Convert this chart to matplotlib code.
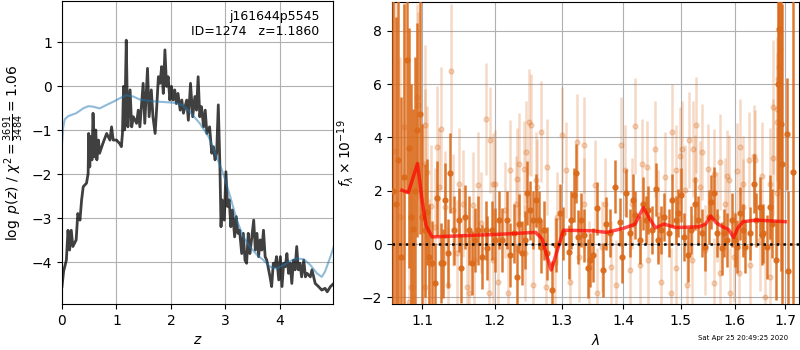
import matplotlib
matplotlib.use("Agg")
import matplotlib.pyplot as plt
from matplotlib.ticker import FixedLocator, FixedFormatter, NullLocator, NullFormatter

# log p(z) on the redshift grid
z_grid = [0.0, 0.03, 0.08, 0.11, 0.14, 0.17, 0.2, 0.26, 0.29, 0.33, 0.36, 0.39, 0.45, 0.48, 0.49,
          0.51, 0.53, 0.55, 0.57, 0.6, 0.62, 0.64, 0.67, 0.69, 0.75, 0.82, 0.88, 0.91, 0.94, 1.0,
          1.06, 1.09, 1.11, 1.13, 1.15, 1.18, 1.2, 1.21, 1.25, 1.28, 1.31, 1.37, 1.4, 1.43, 1.49,
          1.52, 1.57, 1.6, 1.64, 1.67, 1.71, 1.74, 1.77, 1.8, 1.83, 1.86, 1.89, 1.92, 1.95, 1.98,
          2.01, 2.04, 2.07, 2.1, 2.13, 2.17, 2.2, 2.23, 2.29, 2.32, 2.36, 2.4, 2.44, 2.47, 2.5,
          2.53, 2.56, 2.6, 2.63, 2.66, 2.71, 2.75, 2.78, 2.81, 2.84, 2.87, 2.9, 2.92, 2.94, 2.98,
          3.01, 3.04, 3.07, 3.1, 3.13, 3.17, 3.2, 3.23, 3.26, 3.3, 3.33, 3.36, 3.39, 3.42, 3.45,
          3.48, 3.52, 3.55, 3.58, 3.61, 3.64, 3.67, 3.7, 3.73, 3.76, 3.82, 3.85, 3.88, 3.91, 3.94,
          3.98, 4.01, 4.04, 4.07, 4.1, 4.13, 4.16, 4.19, 4.22, 4.25, 4.28, 4.31, 4.34, 4.37, 4.4,
          4.44, 4.47, 4.5, 4.56, 4.59, 4.65, 4.71, 4.77, 4.83, 4.87, 4.93, 4.99]
log_pz = [-4.55, -4.2, -3.95, -3.27, -3.72, -3.27, -3.64, -3.49, -2.89, -3.04, -2.58, -2.28, -2.2, -1.98, -1.07,
          -1.83, -1.14, -1.67, -0.61, -1.6, -0.99, -1.67, -1.22, -1.52, -1.3, -1.07, -1.22, -0.92, -1.22, -1.22,
          -1.3, -1.37, -1.07, 0.0, -0.99, 1.05, -0.46, -0.92, -0.08, -0.92, -0.69, -0.84, -0.54, -0.92, 0.07,
          -0.84, 0.41, -0.69, -0.08, -0.69, -1.07, -0.46, 0.22, 0.07, 0.45, -0.16, 0.83, 0.0, 0.22, -0.31,
          0.0, -0.31, -0.08, -0.39, -0.16, -0.54, -0.31, -0.61, -0.31, -0.77, 0.07, -0.69, -0.23, -0.54, 0.22,
          -0.69, -0.46, -0.92, -0.54, -1.07, -0.92, -1.52, -1.37, -1.67, -1.52, -0.42, -1.83, -3.19, -2.58, -3.04,
          -1.94, -2.73, -2.58, -3.19, -2.81, -3.42, -2.96, -3.34, -3.27, -3.8, -3.34, -3.95, -4.02, -3.34, -3.8,
          -3.49, -3.04, -3.72, -3.34, -3.87, -3.49, -3.72, -3.27, -3.87, -3.95, -4.33, -4.55, -4.02, -4.1, -3.87,
          -4.4, -3.87, -4.55, -4.02, -4.1, -3.8, -4.25, -4.02, -4.48, -3.95, -4.17, -3.64, -4.17, -4.02, -4.33,
          -3.95, -4.33, -4.25, -4.33, -4.17, -4.48, -4.55, -4.63, -4.59, -4.67, -4.55, -4.48]

# smooth prior curve
z_prior = [0.0, 0.02, 0.05, 0.11, 0.17, 0.26, 0.39, 0.48, 0.57, 0.69, 0.82, 0.94, 1.06, 1.18, 1.31,
           1.43, 1.61, 1.8, 2.04, 2.2, 2.35, 2.53, 2.69, 2.84, 2.96, 3.09, 3.21, 3.33, 3.45, 3.58,
           3.7, 3.82, 3.94, 4.07, 4.19, 4.31, 4.44, 4.56, 4.68, 4.77, 4.83, 4.93, 4.99]
log_prior = [-1.3, -0.95, -0.75, -0.68, -0.65, -0.61, -0.5, -0.45, -0.46, -0.5, -0.42, -0.35, -0.27, -0.2, -0.23,
             -0.3, -0.33, -0.35, -0.37, -0.42, -0.58, -0.84, -1.14, -1.6, -1.98, -2.51, -3.04, -3.42, -3.64, -3.83,
             -3.95, -4.1, -4.14, -4.06, -3.97, -3.91, -3.93, -4.06, -4.25, -4.33, -4.21, -3.87, -3.64]

# grism spectrum, strong-weight pixels
lam_a = [1.0625, 1.0665, 1.069, 1.0725, 1.0765, 1.0795, 1.0833, 1.0855, 1.0878, 1.0905, 1.0934, 1.0974,
         1.0995, 1.103, 1.106, 1.109, 1.1133, 1.1168, 1.119, 1.1244, 1.1276, 1.1311, 1.1344, 1.1379,
         1.1426, 1.1494, 1.153, 1.1578, 1.1633, 1.168, 1.1712, 1.1764, 1.1811, 1.1867, 1.1891, 1.1963,
         1.2002, 1.2064, 1.2104, 1.2176, 1.2224, 1.2273, 1.2322, 1.2358, 1.2397, 1.2446, 1.248, 1.252,
         1.257, 1.2606, 1.2647, 1.268, 1.2727, 1.278, 1.285, 1.2918, 1.298, 1.303, 1.311, 1.315,
         1.3188, 1.3226, 1.3267, 1.331, 1.3363, 1.3412, 1.3455, 1.3492, 1.3564, 1.3666, 1.372, 1.3776,
         1.3858, 1.394, 1.398, 1.4043, 1.411, 1.4167, 1.4206, 1.428, 1.4327, 1.4378, 1.4425, 1.4483,
         1.4551, 1.46, 1.4656, 1.4704, 1.4789, 1.4849, 1.4907, 1.4943, 1.5004, 1.5063, 1.5123, 1.5185,
         1.5258, 1.532, 1.538, 1.5447, 1.551, 1.5554, 1.5615, 1.5666, 1.576, 1.5803, 1.5856, 1.5951,
         1.6, 1.6047, 1.611, 1.6163, 1.6207, 1.629, 1.638, 1.642, 1.6486, 1.6532, 1.6563, 1.663,
         1.6697, 1.673, 1.682, 1.686, 1.6874, 1.6915, 1.6945, 1.7045, 1.705, 1.7155]
flux_a = [2.0, 1.5, 3.17, -0.5, 2.5, 6.9, 3.6, 1.0, 0.56, 2.0, 4.27, 4.87,
          1.0, 0.52, 1.2, -0.5, -0.72, -1.47, 1.71, -0.72, -0.72, 1.64, -0.35, 2.67,
          0.52, 0.9, -0.91, 1.02, 0.52, -0.72, 0.15, 0.52, -0.47, 0.52, -0.16, 0.52,
          0.15, 0.9, 0.15, 0.9, -0.41, 0.4, -1.22, 0.77, -0.35, 0.15, 1.9, 1.27,
          0.9, 1.64, 0.9, -0.1, 0.52, -0.35, -1.72, -0.04, 1.15, 0.4, -0.29, 0.9,
          1.84, 2.65, 0.27, 0.9, 0.33, -0.91, -0.6, -0.41, 1.34, -0.97, 0.77, 0.4,
          2.15, 0.84, -0.47, 1.9, 0.4, 1.64, 1.08, 0.15, 1.52, 0.9, 1.27, 0.52,
          2.05, 0.15, 0.52, 1.02, 0.4, 1.64, 0.9, 1.15, 1.84, 0.27, -0.41, 0.52,
          1.52, 0.9, 0.4, -0.1, 1.02, 1.58, 1.9, 0.4, -0.16, 0.4, 0.15, 0.9,
          0.15, -0.1, 1.15, 0.52, -0.1, 0.4, 2.27, 0.9, 1.4, 0.33, 0.4, -0.1,
          1.4, 0.77, -0.6, 6.0, 8.05, 4.5, 3.0, 4.12, -1.0, 2.71]
err_a = [8.0, 7.0, 7.0, 6.0, 6.5, 5.0, 4.5, 5.0, 4.5, 5.0, 4.0, 4.5,
         3.5, 2.5, 2.0, 2.0, 1.6, 1.5, 1.4, 1.5, 1.3, 1.4, 1.3, 1.5,
         1.3, 1.2, 1.3, 1.2, 1.3, 1.2, 1.2, 1.3, 1.2, 1.1, 1.2, 1.1,
         1.2, 1.1, 1.2, 1.1, 1.2, 1.1, 1.2, 1.1, 1.2, 1.1, 1.2, 1.1,
         1.1, 1.0, 1.1, 1.0, 1.1, 1.0, 1.1, 1.0, 1.1, 1.0, 1.0, 1.1,
         1.0, 1.1, 1.0, 1.0, 1.0, 1.1, 1.0, 1.0, 1.0, 1.0, 1.0, 0.9,
         1.0, 0.9, 1.0, 0.9, 0.9, 1.0, 0.9, 0.9, 1.0, 0.9, 0.9, 0.9,
         1.0, 0.9, 0.9, 0.9, 0.9, 1.0, 0.9, 0.9, 1.0, 0.9, 1.0, 0.9,
         1.0, 0.9, 0.9, 0.9, 1.0, 1.0, 1.0, 0.9, 1.0, 0.9, 1.0, 1.0,
         1.0, 1.0, 1.0, 1.0, 1.0, 1.0, 1.1, 1.0, 1.1, 1.1, 1.1, 1.2,
         1.2, 1.3, 1.5, 6.0, 6.0, 5.5, 6.0, 2.1, 3.0, 8.0]

# grism spectrum, second orient (faint)
lam_b = [1.064, 1.071, 1.076, 1.0826, 1.085, 1.0934, 1.095, 1.103, 1.104, 1.104, 1.1066, 1.109,
         1.111, 1.117, 1.1199, 1.122, 1.1255, 1.131, 1.1345, 1.138, 1.142, 1.1465, 1.149, 1.155,
         1.16, 1.1633, 1.169, 1.17, 1.176, 1.181, 1.1867, 1.1915, 1.193, 1.197, 1.198, 1.2006,
         1.205, 1.215, 1.2197, 1.2224, 1.2305, 1.2331, 1.2359, 1.243, 1.2446, 1.2465, 1.2502, 1.2527,
         1.257, 1.2609, 1.2623, 1.268, 1.2756, 1.278, 1.29, 1.293, 1.3005, 1.307, 1.3134, 1.324,
         1.327, 1.335, 1.336, 1.343, 1.353, 1.356, 1.3645, 1.3695, 1.38, 1.388, 1.396, 1.4026,
         1.411, 1.414, 1.4206, 1.428, 1.431, 1.4395, 1.4425, 1.454, 1.46, 1.4656, 1.4718, 1.4826,
         1.4837, 1.4907, 1.4907, 1.4987, 1.5017, 1.508, 1.5106, 1.5153, 1.52, 1.5227, 1.526, 1.527,
         1.535, 1.5384, 1.545, 1.549, 1.56, 1.56, 1.5666, 1.5724, 1.5724, 1.582, 1.5845, 1.589,
         1.591, 1.598, 1.6047, 1.608, 1.611, 1.617, 1.617, 1.627, 1.63, 1.638, 1.64, 1.6486,
         1.6532, 1.66, 1.67, 1.6697, 1.675, 1.676, 1.683, 1.6843, 1.684, 1.686, 1.688, 1.689]
flux_b = [3.5, 1.0, 4.4, -2.16, -1.6, 5.5, 5.2, 3.0, 4.45, -1.6, 2.69, -0.72,
          1.43, 0.65, 3.64, 2.15, 4.33, 1.38, -1.55, 6.5, 1.27, -0.35, 2.27, 1.52,
          -1.6, -1.85, 1.46, -0.6, 2.2, 0.8, 4.68, -1.85, 3.9, -0.6, 2.27, 2.27,
          -1.42, 1.27, -1.85, 2.77, 1.52, 2.45, 3.0, 2.82, -0.35, 3.45, 4.58, 4.46,
          -1.55, 2.4, 2.15, 4.21, -1.6, 2.9, -0.72, 1.02, 4.1, 2.77, -1.42, 3.82,
          -0.47, 1.52, 3.7, -0.85, 2.2, -1.85, -0.1, 1.52, -0.85, -1.55, 3.7, 2.77,
          -0.97, 1.52, 4.42, -0.77, 3.0, 2.9, -0.6, 3.57, 1.08, -1.42, 2.5, -1.85,
          4.21, 2.77, -0.91, 3.32, 3.57, 2.02, -1.55, 3.9, -0.6, 3.57, 2.4, 4.46,
          2.15, 3.44, -0.22, 2.8, 2.62, -1.47, 1.02, 3.07, -1.1, 1.52, 2.57, 2.4,
          -1.85, -0.47, 2.75, -1.1, 3.63, 2.27, 1.4, 3.14, -0.8, 3.32, 3.14, 0.15,
          2.57, -1.97, 2.27, -1.22, 3.24, 5.14, 4.58, 5.08, 1.9, 6.2, 6.64, 7.3]
err_b = [6.0, 6.0, 5.0, 4.0, 4.5, 3.5, 3.5, 2.8, 3.0, 2.6, 2.5, 2.4,
         2.3, 2.2, 2.3, 2.2, 2.3, 2.1, 2.2, 2.5, 2.1, 2.0, 2.1, 2.0,
         2.0, 2.0, 2.0, 1.9, 2.0, 1.9, 2.1, 1.9, 2.0, 1.9, 1.9, 2.0,
         1.9, 1.8, 1.9, 1.9, 1.8, 1.9, 1.9, 1.8, 1.8, 1.9, 2.0, 1.9,
         1.8, 1.8, 1.8, 1.9, 1.8, 1.8, 1.7, 1.7, 1.8, 1.8, 1.7, 1.8,
         1.7, 1.7, 1.8, 1.7, 1.7, 1.7, 1.7, 1.7, 1.7, 1.7, 1.8, 1.7,
         1.7, 1.7, 1.8, 1.7, 1.7, 1.7, 1.7, 1.8, 1.7, 1.7, 1.7, 1.7,
         1.8, 1.7, 1.7, 1.8, 1.8, 1.7, 1.7, 1.8, 1.7, 1.8, 1.7, 1.8,
         1.7, 1.8, 1.7, 1.7, 1.7, 1.7, 1.7, 1.8, 1.7, 1.7, 1.7, 1.7,
         1.7, 1.7, 1.8, 1.8, 1.8, 1.8, 1.8, 1.8, 1.8, 1.9, 1.9, 1.9,
         2.0, 2.0, 2.1, 2.1, 2.2, 2.5, 2.6, 2.7, 2.5, 3.0, 3.5, 4.0]

# best-fit model
lam_model = [1.0736, 1.0817, 1.0938, 1.1, 1.105, 1.1129, 1.2, 1.26, 1.27, 1.278, 1.284, 1.29,
             1.303, 1.35, 1.372, 1.4, 1.42, 1.434, 1.445, 1.455, 1.47, 1.491, 1.533, 1.545,
             1.555, 1.565, 1.577, 1.588, 1.598, 1.606, 1.616, 1.642, 1.7]
flux_model = [2.02, 1.93, 3.02, 1.6, 0.7, 0.27, 0.36, 0.44, 0.2, -0.5, -0.97, -0.5,
              0.52, 0.5, 0.44, 0.59, 0.75, 1.37, 0.95, 0.61, 0.75, 0.62, 0.65, 0.75,
              1.05, 0.8, 0.65, 0.55, 0.25, 0.6, 0.84, 0.9, 0.84]

lam_ticks = [1.1, 1.2, 1.3, 1.4, 1.5, 1.6, 1.7]

fig = plt.figure(figsize=(8, 3.5), dpi=100)

# left: redshift PDF
ax1 = fig.add_axes([0.0775, 0.131, 0.339, 0.866])
ax1.plot(z_grid, log_pz, color="k", alpha=0.75, lw=2)
ax1.plot(z_prior, log_prior, color="tab:blue", alpha=0.5, lw=1.5)
ax1.set_xlim(0, 4.98)
ax1.set_ylim(-4.95, 1.94)
ax1.set_xticks([0, 1, 2, 3, 4])
ax1.set_yticks([-4, -3, -2, -1, 0, 1])
ax1.grid(True)
ax1.set_xlabel(r"$z$")
ax1.set_ylabel(r"$\log\ p(z)$" + " / " + r"$\chi^2=\frac{3691}{3484}=1.06$")
ax1.text(0.95, 0.97, "j161644p5545\nID=1274   z=1.1860", transform=ax1.transAxes,
         ha="right", va="top", fontsize=9)

# right: spectrum
ax2 = fig.add_axes([0.49, 0.131, 0.509, 0.863])
orange = "#db6a1a"
ax2.errorbar(lam_b, flux_b, yerr=err_b, fmt="o", color=orange, alpha=0.25,
             ms=3.5, elinewidth=1.8, capsize=0, zorder=2)
ax2.errorbar(lam_a, flux_a, yerr=err_a, fmt="o", color=orange, alpha=0.9,
             ms=3.5, elinewidth=1.8, capsize=0, zorder=3)
ax2.plot(lam_model, flux_model, color="r", alpha=0.7, lw=2.5, zorder=4)
ax2.axhline(0, color="k", ls=":", lw=1.8, zorder=5)
ax2.set_xscale("log")
ax2.set_xlim(1.0608, 1.7288)
ax2.set_ylim(-2.25, 9.07)
ax2.xaxis.set_major_locator(FixedLocator(lam_ticks))
ax2.xaxis.set_major_formatter(FixedFormatter(["%.1f" % t for t in lam_ticks]))
ax2.xaxis.set_minor_locator(NullLocator())
ax2.xaxis.set_minor_formatter(NullFormatter())
ax2.set_yticks([-2, 0, 2, 4, 6, 8])
ax2.grid(True)
ax2.set_xlabel(r"$\lambda$")
ax2.set_ylabel(r"$f_\lambda\times10^{-19}$")

fig.text(0.985, 0.025, "Sat Apr 25 20:49:25 2020", ha="right", va="bottom", fontsize=5)

fig.savefig("out.png", dpi=100)
